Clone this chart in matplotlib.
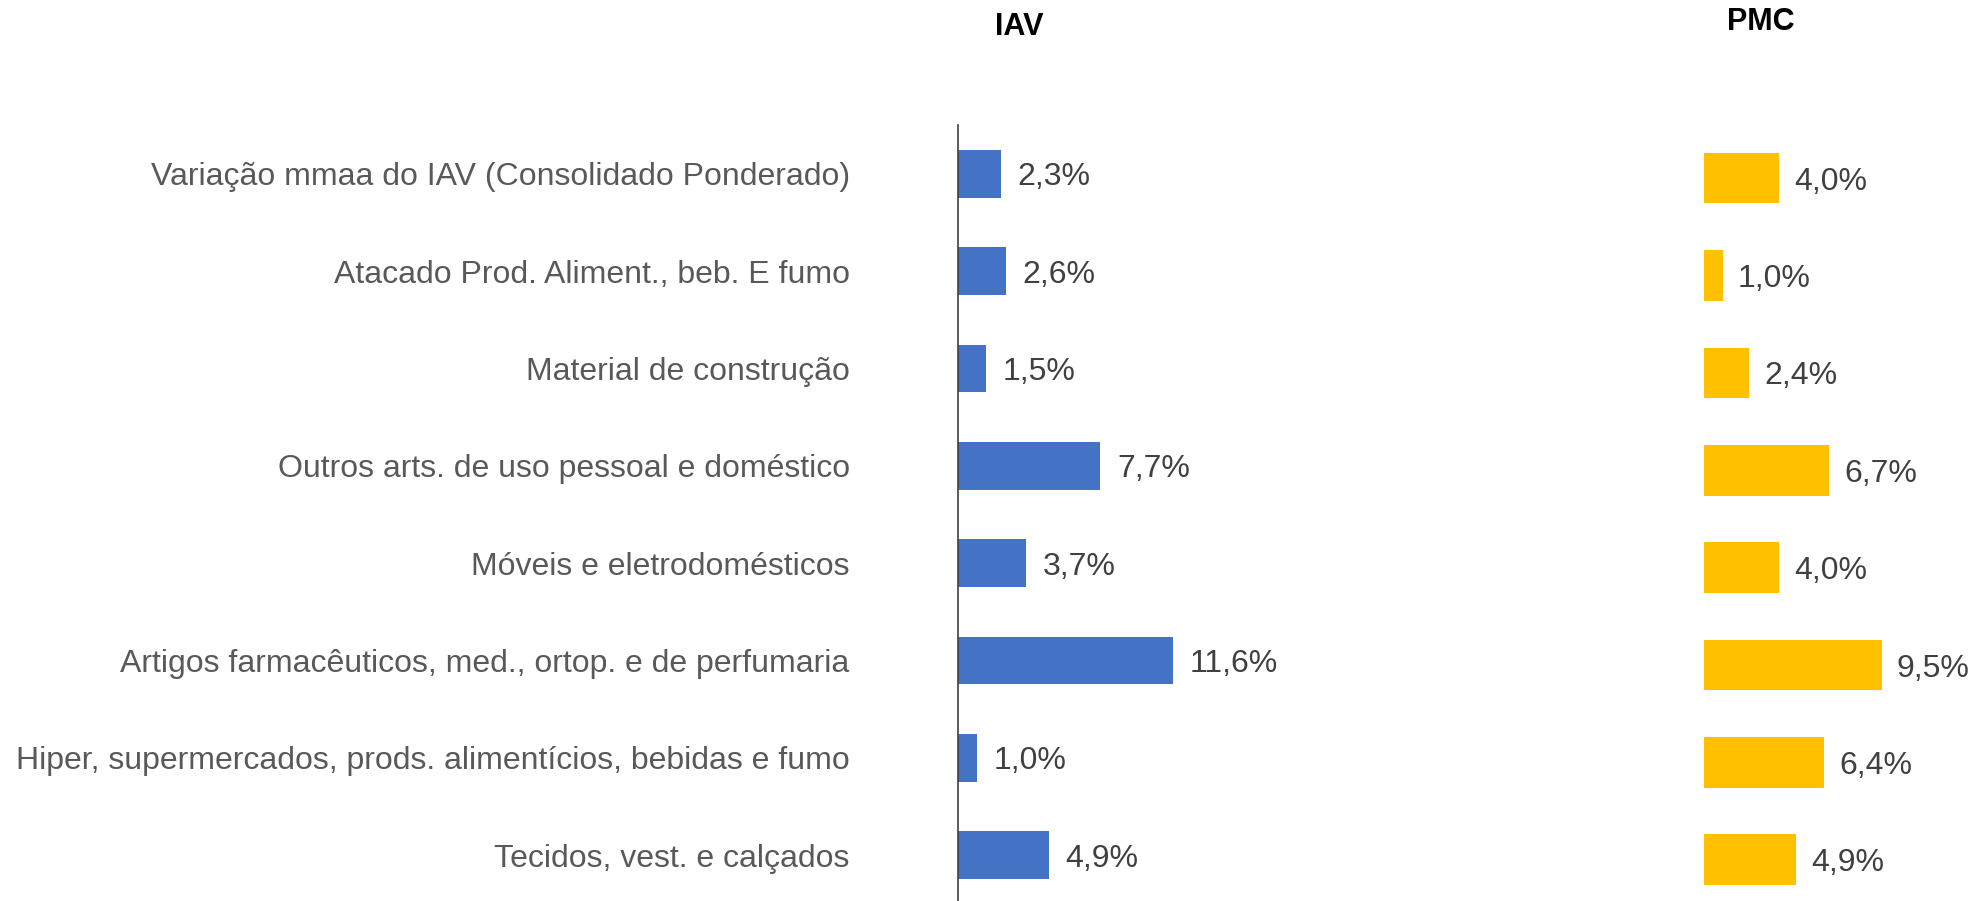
import matplotlib.pyplot as plt

plt.rcParams['font.family'] = ['Liberation Sans', 'DejaVu Sans']

# dados
categorias = [
    "Variação mmaa do IAV (Consolidado Ponderado)",
    "Atacado Prod. Aliment., beb. E fumo",
    "Material de construção",
    "Outros arts. de uso pessoal e doméstico",
    "Móveis e eletrodomésticos",
    "Artigos farmacêuticos, med., ortop. e de perfumaria",
    "Hiper, supermercados, prods. alimentícios, bebidas e fumo",
    "Tecidos, vest. e calçados",
]
iav = [2.3, 2.6, 1.5, 7.7, 3.7, 11.6, 1.0, 4.9]
pmc = [4.0, 1.0, 2.4, 6.7, 4.0, 9.5, 6.4, 4.9]

W, H = 1975, 901
fig = plt.figure(figsize=(W / 100, H / 100), dpi=100)

cinza = "#595959"
pos = list(range(len(categorias)))

# eixo IAV
ax1 = fig.add_axes([958 / W, 0, 300 / W, 776 / H])
ax1.barh(pos, iav, height=0.49, color="#4472C4")
ax1.set_xlim(0, 300 / 18.5)
ax1.set_ylim(7.47, -0.5)
for s in ["top", "right", "bottom"]:
    ax1.spines[s].set_visible(False)
ax1.spines["left"].set_color("#404040")
ax1.spines["left"].set_linewidth(1.2)
ax1.set_xticks([])
ax1.set_yticks(pos)
ax1.set_yticklabels(categorias, fontsize=23, color=cinza)
ax1.tick_params(axis="y", length=0, pad=78)
for i, v in enumerate(iav):
    ax1.annotate(f"{v:.1f}%".replace(".", ","), (v, i), xytext=(12, 0),
                 textcoords="offset points", va="center_baseline", ha="left",
                 fontsize=23, color="#404040")
fig.text(1019 / W, 1 - 27 / H, "IAV", fontsize=22, fontweight="bold",
         ha="center", va="center", color="black")

# eixo PMC
ax2 = fig.add_axes([1704 / W, -4.5 / H, 265 / W, 776 / H])
ax2.barh(pos, pmc, height=0.52, color="#FFC000")
ax2.set_xlim(0, 265 / 18.7)
ax2.set_ylim(7.47, -0.5)
ax2.axis("off")
for i, v in enumerate(pmc):
    ax2.annotate(f"{v:.1f}%".replace(".", ","), (v, i), xytext=(11, 0),
                 textcoords="offset points", va="center_baseline", ha="left",
                 fontsize=23, color="#404040", annotation_clip=False)
fig.text(1761 / W, 1 - 22 / H, "PMC", fontsize=22, fontweight="bold",
         ha="center", va="center", color="black")

fig.savefig("out.png", dpi=100)
